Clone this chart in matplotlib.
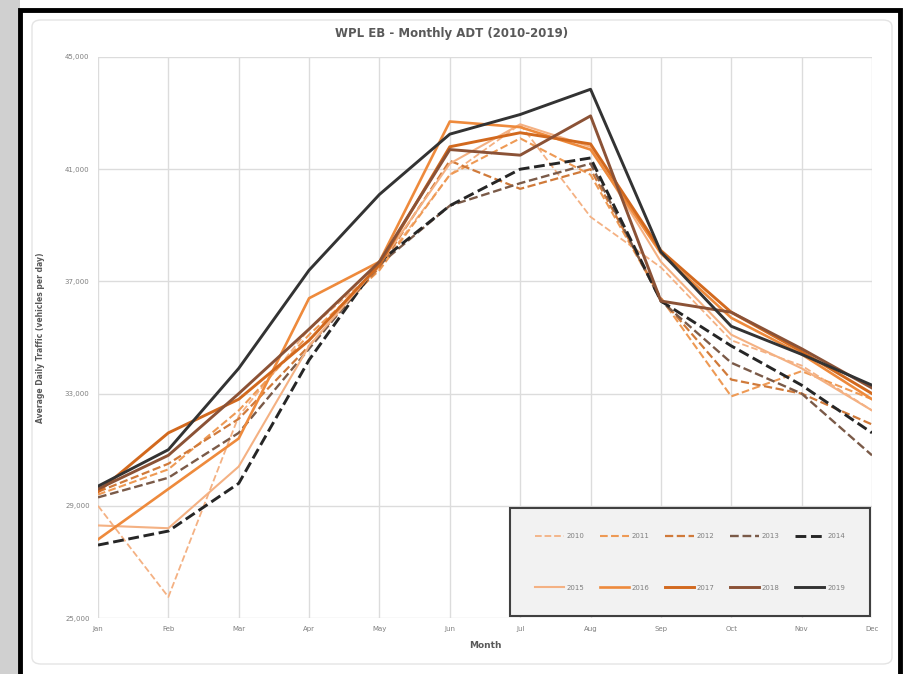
import matplotlib
matplotlib.use('Agg')
import matplotlib.pyplot as plt
from matplotlib.patches import Rectangle, FancyBboxPatch

# Data
months = ['Jan', 'Feb', 'Mar', 'Apr', 'May', 'Jun', 'Jul', 'Aug', 'Sep', 'Oct', 'Nov', 'Dec']

adt_2010 = [29000, 25750, 32200, 35300, 37500, 40800, 42600, 39300, 37500, 34900, 34000, 32400]
adt_2011 = [29400, 30300, 32400, 35100, 37400, 40800, 42100, 40800, 36400, 32900, 33800, 32800]
adt_2012 = [29500, 30500, 32100, 34700, 37500, 41300, 40300, 41000, 36400, 33500, 33000, 31900]
adt_2013 = [29300, 30000, 31600, 34600, 37600, 39700, 40500, 41200, 36300, 34100, 33000, 30800]
adt_2014 = [27600, 28100, 29800, 34200, 37700, 39700, 41000, 41400, 36300, 34700, 33300, 31600]
adt_2015 = [28300, 28200, 30400, 34700, 37600, 41200, 42600, 41800, 37700, 35100, 33900, 32400]
adt_2016 = [27800, 29600, 31400, 36400, 37700, 42700, 42500, 41700, 38000, 35700, 34400, 32800]
adt_2017 = [29500, 31600, 32800, 34900, 37600, 41800, 42300, 41900, 38100, 35900, 34500, 33000]
adt_2018 = [29600, 30800, 33000, 35300, 37700, 41700, 41500, 42900, 36300, 35900, 34600, 33200]
adt_2019 = [29700, 31000, 33900, 37400, 40100, 42250, 42950, 43850, 38050, 35400, 34400, 33300]

series = [
    ('2010', adt_2010, '#F4B183', '--', 1.3),
    ('2011', adt_2011, '#EE9A55', '--', 1.5),
    ('2012', adt_2012, '#D07A3A', '--', 1.6),
    ('2013', adt_2013, '#7A5A48', '--', 1.7),
    ('2014', adt_2014, '#262626', '--', 2.1),
    ('2015', adt_2015, '#F4B183', '-', 1.5),
    ('2016', adt_2016, '#EE8A3C', '-', 1.9),
    ('2017', adt_2017, '#D2691E', '-', 2.1),
    ('2018', adt_2018, '#8B5236', '-', 2.1),
    ('2019', adt_2019, '#333333', '-', 2.1),
]

fig = plt.figure(figsize=(9.04, 6.74), dpi=100)
fig.patch.set_facecolor('white')

# background frame
fig.patches.append(Rectangle((0, 0), 20/904, 1, transform=fig.transFigure,
                             facecolor='#D0D0D0', edgecolor='none', zorder=-3))
fig.patches.append(Rectangle((20/904, -0.02), 880/904, 1.0 - 10/674 + 0.02,
                             transform=fig.transFigure, facecolor='white',
                             edgecolor='black', linewidth=3.5, zorder=-2))
fig.patches.append(FancyBboxPatch((32/904, 10/674), 860/904, 1 - 30/674,
                                  boxstyle='round,pad=0,rounding_size=0.01',
                                  transform=fig.transFigure, facecolor='white',
                                  edgecolor='#E4E4E4', linewidth=1, zorder=-1))

ax = fig.add_axes([98/904, 56/674, 774/904, 561/674])
x = list(range(len(months)))
lines = {}
for name, vals, color, ls, lw in series:
    lines[name], = ax.plot(x, vals, linestyle=ls, color=color, linewidth=lw, label=name)

ax.set_xlim(0, 11)
ax.set_ylim(25000, 45000)
ax.set_xticks(x)
ax.set_xticklabels(months)
ax.set_yticks([25000, 29000, 33000, 37000, 41000, 45000])
ax.yaxis.set_major_formatter(matplotlib.ticker.StrMethodFormatter('{x:,.0f}'))
ax.tick_params(length=0, labelsize=5, colors='#7F7F7F', pad=6)
ax.grid(True, color='#DCDCDC', linewidth=1)
ax.set_axisbelow(True)
for s in ax.spines.values():
    s.set_visible(False)

ax.set_xlabel('Month', fontsize=6.5, fontweight='bold', color='#595959', labelpad=6)
ax.set_ylabel('Average Daily Traffic (vehicles per day)', fontsize=5.5,
              fontweight='bold', color='#595959', labelpad=14)
fig.text(0.5, 1 - 33/674, 'WPL EB - Monthly ADT (2010-2019)', ha='center', va='center',
         fontsize=8.5, fontweight='bold', color='#595959')

# legend: row 1 = 2010-2014, row 2 = 2015-2019 (matplotlib fills by column)
order = ['2010', '2015', '2011', '2016', '2012', '2017', '2013', '2018', '2014', '2019']
leg = ax.legend([lines[k] for k in order], order, loc='lower right', ncol=5,
                fontsize=5, frameon=True, bbox_to_anchor=(1.0, 0.0),
                borderaxespad=0.3, handlelength=4.2, handletextpad=0.4,
                columnspacing=2.2, labelspacing=6.6, borderpad=3.6,
                fancybox=False)
leg.get_frame().set_facecolor('#F2F2F2')
leg.get_frame().set_edgecolor('#404040')
leg.get_frame().set_linewidth(1.5)
leg.get_frame().set_alpha(1)
for t in leg.get_texts():
    t.set_color('#7F7F7F')

fig.savefig('out.png', dpi=100)
